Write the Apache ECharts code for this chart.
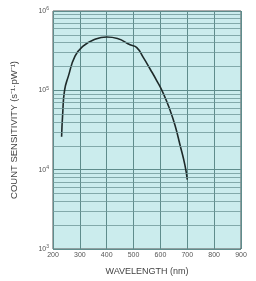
<!DOCTYPE html>
<html>
<head>
<meta charset="utf-8">
<script src="https://cdn.jsdelivr.net/npm/echarts@6/dist/echarts.min.js"></script>
<style>
  html, body { margin: 0; padding: 0; background: #fff; }
  #chart { width: 256px; height: 281px; }
</style>
</head>
<body>
<div id="chart"></div>
<script>
// spectral response curve
var wavelength = [232, 236, 243, 257, 282, 312, 350, 400, 440, 487, 512, 536, 561, 586, 611, 636, 654, 673, 691, 700];
var sensitivity = [2.6e4, 5e4, 1e5, 1.5e5, 2.7e5, 3.6e5, 4.3e5, 4.7e5, 4.5e5, 3.75e5, 3.45e5, 2.6e5, 1.87e5, 1.33e5, 9.1e4, 5.6e4, 3.65e4, 2.05e4, 1.15e4, 7.5e3];

// minor log grid lines (2..9 in each decade)
var minorLines = [];
for (var d = 3; d < 6; d++) {
    for (var m = 2; m <= 9; m++) {
        minorLines.push({ yAxis: m * Math.pow(10, d) });
    }
}

var myChart = echarts.init(document.getElementById('chart'));

var option = {
    animation: false,
    grid: {
        left: 53,
        right: 15,
        top: 11,
        bottom: 31,
        show: true,
        backgroundColor: '#cbeced',
        borderColor: '#555',
        borderWidth: 1
    },
    xAxis: {
        type: 'value',
        min: 200,
        max: 900,
        interval: 100,
        name: 'WAVELENGTH (nm)',
        nameLocation: 'middle',
        nameGap: 18,
        nameTextStyle: { fontSize: 9, color: '#444', fontFamily: 'Liberation Sans' },
        axisLine: { show: false },
        axisTick: { show: false },
        axisLabel: { fontSize: 7, color: '#555', margin: 3, fontFamily: 'Liberation Sans' },
        splitLine: { show: true, lineStyle: { color: '#5f8c8c', width: 1 } }
    },
    yAxis: {
        type: 'log',
        logBase: 10,
        min: 1e3,
        max: 1e6,
        name: 'COUNT SENSITIVITY (s⁻¹·pW⁻¹)',
        nameLocation: 'middle',
        nameGap: 34,
        nameTextStyle: { fontSize: 9.5, color: '#444', fontFamily: 'Liberation Sans' },
        axisLine: { show: false },
        axisTick: { show: false },
        axisLabel: {
            margin: 4,
            formatter: function (v) {
                var e = Math.round(Math.log10(v));
                return '{b|10}{s|' + e + '}';
            },
            rich: {
                b: { fontSize: 7, color: '#555', fontFamily: 'Liberation Sans' },
                s: { fontSize: 5, color: '#555', verticalAlign: 'top', padding: [0, 0, 4, 0], fontFamily: 'Liberation Sans' }
            }
        },
        splitLine: { show: true, lineStyle: { color: '#5f8c8c', width: 1 } }
    },
    series: [{
        type: 'line',
        data: wavelength.map(function (w, i) { return [w, sensitivity[i]]; }),
        smooth: 0.5,
        showSymbol: false,
        lineStyle: { color: '#1e2a2a', width: 1.6 },
        markLine: {
            silent: true,
            symbol: 'none',
            label: { show: false },
            lineStyle: { color: '#6f9898', width: 0.8, type: 'solid' },
            data: minorLines
        },
        z: 3
    }]
};

myChart.setOption(option);
</script>
</body>
</html>
